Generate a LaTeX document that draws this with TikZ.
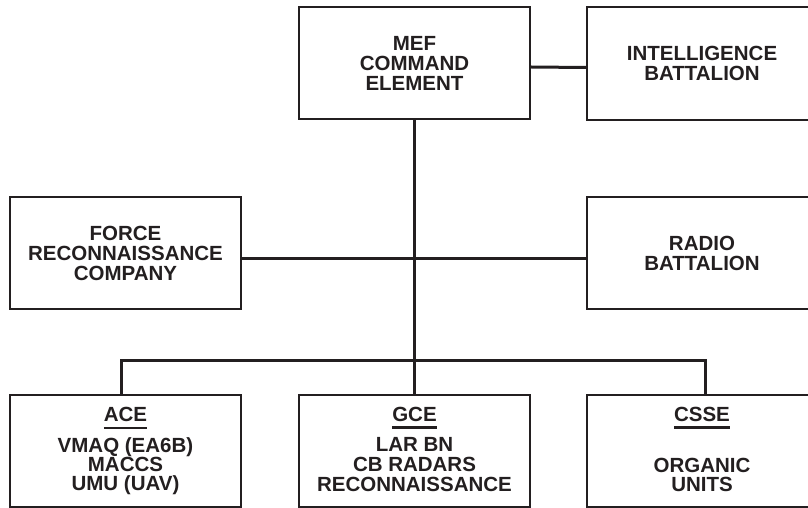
\documentclass[tikz,border=0pt]{standalone}
\usepackage{fontspec}
\setmainfont{Liberation Sans}
\definecolor{ink}{HTML}{231F20}
\newcommand{\myul}[1]{\setbox0=\hbox{#1}\rlap{\raisebox{-7.5pt}[0pt][0pt]{\rule{\wd0}{2.2pt}}}\box0}
\begin{document}
\begin{tikzpicture}[x=1pt,y=-1pt,
  orgbox/.style={draw=ink, text=ink, line width=2.4pt, minimum width=231pt, minimum height=112pt,
    inner sep=0pt, align=center, font=\fontsize{20.5}{20}\selectfont\bfseries},
  conn/.style={draw=ink, line width=3pt}]
\useasboundingbox (0,0) rectangle (808,508);
\node[orgbox] (mef) at (414.5,63) {MEF\\COMMAND\\ELEMENT};
\node[orgbox, minimum width=230pt, minimum height=113pt] (int) at (702,63.5) {INTELLIGENCE\\BATTALION};
\node[orgbox] (frc) at (125.5,253) {FORCE\\RECONNAISSANCE\\COMPANY};
\node[orgbox, minimum width=230pt] (rad) at (702,253) {RADIO\\BATTALION};
\node[orgbox] (ace) at (125.5,451) {\myul{ACE}\\[11pt]VMAQ (EA6B)\\[-1pt]MACCS\\[-1pt]UMU (UAV)};
\node[orgbox] (gce) at (414.5,451) {\myul{GCE}\\[10pt]LAR BN\\CB RADARS\\RECONNAISSANCE\rule[-4pt]{0pt}{1pt}};
\node[orgbox, minimum width=230pt] (csse) at (702,451) {\myul{CSSE}\\[31pt]ORGANIC\\[-1pt]UNITS\rule[-4pt]{0pt}{1pt}};
\coordinate (busL) at (121,360);
\coordinate (busR) at (705,360);
\draw[conn] (mef.south) -- (gce.north);
\draw[conn] ([yshift=-4pt]mef.east) -- ([yshift=-4pt]int.west);
\draw[conn] ([yshift=-5pt]frc.east) -- ([yshift=-5pt]rad.west);
\draw[conn] (ace.north -| busL) -- (busL) -- (busR) -- (csse.north -| busR);
\end{tikzpicture}
\end{document}
